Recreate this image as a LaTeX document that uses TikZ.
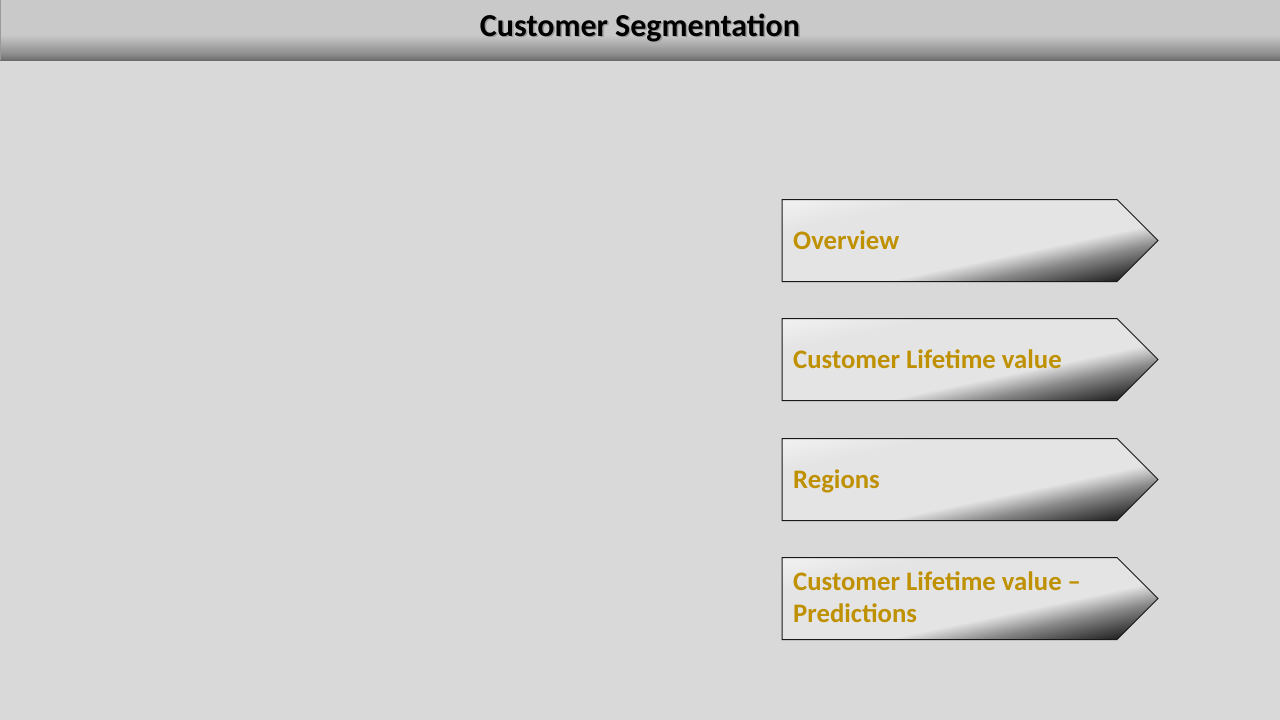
\documentclass[tikz,border=0pt]{standalone}
\usepackage{fontspec}
\setmainfont{Carlito}
\definecolor{bg}{HTML}{D9D9D9}
\definecolor{boxlight}{HTML}{E4E4E4}
\definecolor{gold}{HTML}{BF9000}
\definecolor{bardark}{HTML}{6C6C6C}
\definecolor{barlight}{HTML}{C9C9C9}
\definecolor{s1}{HTML}{1A1A1A}
\definecolor{s2}{HTML}{505050}
\definecolor{s3}{HTML}{888888}
\definecolor{s4}{HTML}{C0C0C0}
\definecolor{s5}{HTML}{F2F2F2}
% axis position (bp) = 60 - distance from the light edge of the dark band
\pgfdeclareverticalshading{chevshade}{100bp}{color(0bp)=(s1); color(10bp)=(s1); color(25bp)=(s2); color(40bp)=(s3); color(52bp)=(s4); color(60bp)=(boxlight); color(130bp)=(boxlight); color(162bp)=(s5); color(170bp)=(s5)}
\pgfdeclareverticalshading{titleshade}{100bp}{color(0bp)=(bardark); color(25bp)=(bardark); color(30bp)=(black!45); color(46bp)=(barlight); color(100bp)=(barlight)}
\tikzset{
  chevborder/.style={draw=black!90, line width=1pt},
  lbl/.style={font=\fontsize{26.7}{32}\selectfont\bfseries, text=gold, anchor=west, inner sep=0pt, align=left, text height=17pt, text depth=0pt},
  ttl/.style={font=\fontsize{32}{38}\selectfont\bfseries, inner sep=0pt, text height=20.6pt, text depth=0pt}
}
\newcommand\chevpath[1]{(782,#1) -- (1117,#1) -- (1158,#1+41) -- (1117,#1+82) -- (782,#1+82) -- cycle}
\newcommand\chevbox[2]{%
  \begin{scope}
    \clip \chevpath{#1};
    \node[inner sep=0pt, outer sep=0pt, anchor=south, rotate=12] (#2) at (902.5,#1+139.7)
      {\scalebox{8}[1]{\pgfuseshading{chevshade}}};
  \end{scope}
  \path[chevborder] \chevpath{#1};}
\begin{document}
\begin{tikzpicture}[x=1pt,y=-1pt]
\useasboundingbox (0,0) rectangle (1280,720);
\fill[bg] (0,0) rectangle (1280,720);
% title bar
\shade[shading=titleshade] (0,0) rectangle (1280,60);
\draw[black!40, line width=1pt] (0.5,0) -- (0.5,60);
\node[ttl, text=black!40] (titleshadow) at (641.5,27.2) {Customer Segmentation};
\node[ttl, text=black] (title) at (640,25.7) {Customer Segmentation};
% chevrons
\chevbox{199.5}{shadeA}
\chevbox{318.5}{shadeB}
\chevbox{438.5}{shadeC}
\chevbox{557.5}{shadeD}
\node[lbl] (overview) at (793,240.5) {Overview};
\node[lbl] (clv) at (793,359.5) {Customer Lifetime value};
\node[lbl] (regions) at (793,479.5) {Regions};
\node[lbl] (clvpred) at (793,614.3) {Customer Lifetime value –\\Predictions};
\end{tikzpicture}
\end{document}
